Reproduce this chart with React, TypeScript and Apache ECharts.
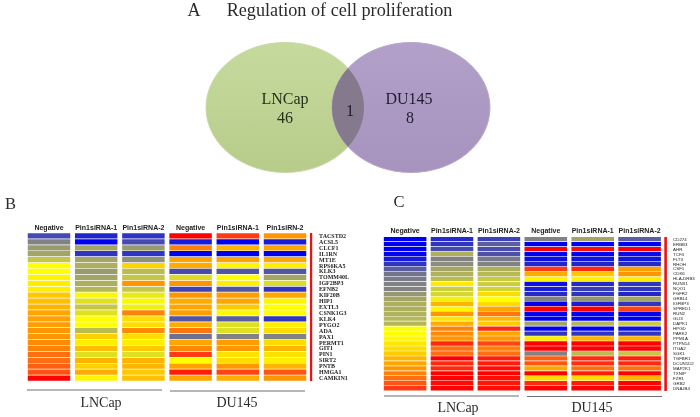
import React, { useEffect, useRef } from "react";
import * as echarts from "echarts";

const SERIF = "'Liberation Serif', serif";
const SANS = "'Liberation Sans', sans-serif";

const titleLetter = "A";
const titleText = "Regulation of cell proliferation";
const vennLeft = ["LNCap", "46"];
const vennMid = "1";
const vennRight = ["DU145", "8"];

const headersB = ["Negative", "Pin1siRNA-1", "Pin1siRNA-2", "Negative", "Pin1siRNA-1", "Pin1siRN-2"];
const headersC = ["Negative", "Pin1siRNA-1", "Pin1siRNA-2", "Negative", "Pin1siRNA-1", "Pin1siRNA-2"];

const genesB = ["TACSTD2", "ACSL5", "CLCF1", "IL1RN", "MT1E", "RPS6KA5", "KLK3", "TOMM40L", "IGF2BP3", "EFNB2", "KIF20B", "HIP1", "EXTL3", "CSNK1G3", "KLK4", "PYGO2", "ADA", "PAX1", "PERMT1", "GIT1", "PIN1", "SIRT2", "PNTB", "HMGA1", "CAMKIN1"];
const genesC = ["CD274", "ERBB3", "AHR", "TCF4", "FLT3", "RHOH", "CSF1", "CDK6", "HLA-DRB3", "RUNX1", "NQO1", "FGFR2", "GRB14", "IGFBP3", "SPRED1", "RUN2", "GLI3", "DAPK1", "HPGD", "PARK2", "PPM1A", "PTPN14", "ITGA2", "SGK1", "TGFBR1", "DCUN1D2", "MAP2K1", "TXNIP", "FZR1", "GRB2", "DNAJB4"];

const bLnNeg = [1.5, 3, 3.7, 4, 5, 7, 7, 7.3, 7.5, 7.5, 8.5, 8.7, 9, 9.5, 9.7, 9.8, 10, 10, 10.3, 10.5, 11, 11, 11.3, 11.5, 13];
const bLnP1 = [0.7, 0, 4, 1, 4, 4.3, 3.7, 4, 4.3, 4.5, 6.8, 6, 5, 6, 7, 7, 4.7, 8.3, 7.5, 8.8, 6, 9, 8.3, 9.3, 7.3];
const bLnP2 = [1, 1.5, 3.7, 1, 3.4, 8.2, 4.7, 5, 10, 5, 6.3, 6.8, 6.5, 10.5, 8, 8, 10.3, 8, 7.5, 8.5, 6, 9, 9, 8.5, 8.7];
const bDuNeg = [13, 0.5, 10.5, 0, 9.5, 9.3, 1.5, 5.8, 10, 1.3, 10, 9.3, 9.5, 9.7, 1.8, 9.3, 10.8, 2.5, 9.5, 10.4, 12, 7, 9.6, 12.5, 9.5];
const bDuP1 = [12, 0, 9, 0, 9.5, 7.3, 1.8, 7, 7.5, 1.8, 9.8, 9.5, 8.5, 7.2, 2, 6, 6, 3, 9.8, 10, 7.8, 8, 10, 11.8, 9.2];
const bDuP2 = [10, 0.5, 9.5, 0, 9.5, 7.5, 1.8, 4, 5.8, 1, 9.5, 7.3, 7, 7, 1, 7.5, 8, 3, 8, 9, 7.8, 7.5, 9, 11.5, 10];

const cLnNeg = [0, 0, 0, 0.1, 0.5, 1, 2, 2.6, 2.8, 3, 3, 3.6, 4, 4.3, 4.3, 4.4, 4.5, 4.5, 7, 7, 7.2, 7.7, 8, 8.4, 9, 9.5, 10, 10.5, 11, 11.5, 12];
const cLnP1 = [0.8, 1, 1.5, 4.3, 3, 3.3, 4, 4.4, 4.7, 7.6, 5.3, 5.6, 6.5, 9, 7.3, 10, 7.8, 9.3, 10.5, 10.3, 10, 12.3, 11, 11, 13, 12.3, 12.3, 13, 13, 12.8, 13];
const cLnP2 = [1.3, 2, 1.6, 1.7, 2.8, 3, 4.3, 4.6, 5.1, 5.3, 5.5, 8, 7, 8, 9.5, 10.8, 9, 8.4, 12.3, 9.5, 10, 11.8, 10.6, 11, 12.5, 12.5, 12.8, 13, 12.8, 12.6, 12.8];
const cDuNeg = [3, 0, 13, 0, 0.3, 0.7, 12, 9.3, 7.3, 0.3, 0.5, 0.8, 3, 0, 13, 0, 0, 4, 0, 1, 7.5, 13, 13, 3, 11.3, 11.5, 9.5, 13, 8, 12.3, 13];
const cDuP1 = [4, 0, 12.8, 0, 0.4, 0.7, 12.3, 8.5, 7.4, 0.8, 1.2, 1, 3.5, 0.5, 13, 0, 0, 4.5, 0, 1, 9, 13, 13, 4.7, 12.3, 12.2, 11, 12.5, 8, 12.5, 13];
const cDuP2 = [2, 0, 13, 0.2, 0.4, 0.8, 9.8, 10, 7.5, 1, 1, 0.7, 4, 1, 11.8, 0, 0, 5.2, 0.3, 1, 9, 13, 13, 5, 12.5, 12.3, 11, 13, 9, 13, 13];

const heatColours = ["#0000f0", "#2f35c0", "#5a5da0", "#828284", "#a3a566", "#c4c648", "#e0e022", "#ffff00", "#ffdc00", "#ffb400", "#ff9600", "#ff6e10", "#ff3a14", "#ff0000"];

function cells(columns: number[][]) {
  const out: number[][] = [];
  columns.forEach((col, x) => col.forEach((v, y) => out.push([x, y, v])));
  return out;
}

const rect = (widthShare: number, gap: number) => (_p: any, api: any) => {
  const c = api.coord([api.value(0), api.value(1)]);
  const s = api.size([1, 1]);
  const w = s[0] * widthShare;
  const h = s[1] - gap;
  return { type: "rect", shape: { x: c[0] - w / 2, y: c[1] - h / 2, width: w, height: h }, style: { fill: api.visual("color") } };
};

const label = (x: number, y: number, text: string, fontSize: number, fill = "#2b2b2b", extra: any = {}) => ({
  type: "text", x, y,
  style: { text, fontSize, fontFamily: SERIF, fill, align: "center", verticalAlign: "middle", ...extra },
});
const rule = (x1: number, x2: number, y: number) => ({
  type: "line", shape: { x1, y1: y, x2, y2: y }, style: { stroke: "#6f6f6f", lineWidth: 1 },
});

export default function App() {
  const ref = useRef<HTMLDivElement>(null);
  useEffect(() => {
    const chart = echarts.init(ref.current!, undefined, { renderer: "svg" });
    const lens = "M348 68.3 A79 65 0 0 1 348 146.7 A79 65 0 0 1 348 68.3 Z";
    echarts.graphic.registerShape("vennLens", echarts.graphic.extendPath(lens, {}));

    const xAxis = (gridIndex: number, data: string[], margin: number, fontSize: number) => ({
      type: "category", gridIndex, data, position: "top",
      axisLine: { show: false }, axisTick: { show: false }, splitLine: { show: false },
      axisLabel: { interval: 0, margin, fontSize, fontWeight: "bold", fontFamily: SANS, color: "#222" },
    });
    const yAxis = (gridIndex: number, data: string[], margin: number, fontSize: number, fontFamily: string, fontWeight: string) => ({
      type: "category", gridIndex, data, position: "right", inverse: true,
      axisLine: { show: false }, axisTick: { show: false }, splitLine: { show: false },
      axisLabel: { interval: 0, margin, fontSize, fontFamily, fontWeight, color: "#222", align: "left" },
    });

    chart.setOption({
      animation: false,
      backgroundColor: "#ffffff",
      grid: [
        { left: 25.4, top: 233, width: 283.2, height: 148 },
        { left: 381.65, top: 236.7, width: 281.4, height: 154 },
      ],
      xAxis: [xAxis(0, headersB, 2, 7), xAxis(1, headersC, 3, 7)],
      yAxis: [yAxis(0, genesB, 10.5, 6, SERIF, "bold"), yAxis(1, genesC, 10, 4.4, SANS, "normal")],
      visualMap: { show: false, type: "continuous", min: 0, max: 13, dimension: 2, seriesIndex: [0, 1], inRange: { color: heatColours } },
      series: [
        { type: "custom", xAxisIndex: 0, yAxisIndex: 0, encode: { x: 0, y: 1 }, renderItem: rect(0.9, 0.7),
          data: cells([bLnNeg, bLnP1, bLnP2, bDuNeg, bDuP1, bDuP2]) },
        { type: "custom", xAxisIndex: 1, yAxisIndex: 1, encode: { x: 0, y: 1 }, renderItem: rect(0.908, 0.6),
          data: cells([cLnNeg, cLnP1, cLnP2, cDuNeg, cDuP1, cDuP2]) },
      ],
      graphic: [
        {
          type: "group",
          children: [
            { type: "ellipse", shape: { cx: 285, cy: 107.5, rx: 79, ry: 65 },
              style: { fill: new echarts.graphic.LinearGradient(0, 0, 0, 1, [{ offset: 0, color: "#c6da9e" }, { offset: 1, color: "#b7cc8a" }]), stroke: "#c9d8a6", lineWidth: 1 } },
            { type: "ellipse", shape: { cx: 411, cy: 107.5, rx: 79, ry: 65 },
              style: { fill: new echarts.graphic.LinearGradient(0, 0, 0, 1, [{ offset: 0, color: "#b2a0c9" }, { offset: 1, color: "#a693be" }]), stroke: "#b8a8cc", lineWidth: 1 } },
            { type: "vennLens", style: { fill: "#85798d" } },
            label(285, 98, vennLeft[0], 16, "#26331c"),
            label(285, 117, vennLeft[1], 16, "#26331c"),
            label(350, 110, vennMid, 16, "#1d1a22"),
            label(409, 98, vennRight[0], 16, "#231c30"),
            label(410, 117, vennRight[1], 16, "#231c30"),
            label(194, 10, titleLetter, 18),
            label(339.5, 10, titleText, 18.2),
            label(10.5, 203, "B", 16.5),
            label(399, 201, "C", 16.5),
            rule(27, 162, 390),
            rule(170, 305, 391),
            rule(384, 519, 396),
            rule(527, 662, 396.5),
            label(101, 402, "LNCap", 14),
            label(237, 402, "DU145", 14),
            label(458, 407, "LNCap", 14),
            label(592, 407, "DU145", 14),
            { type: "rect", shape: { x: 310, y: 233, width: 2.2, height: 148 }, style: { fill: "#f01010" } },
            { type: "rect", shape: { x: 664.3, y: 237, width: 2.6, height: 154 }, style: { fill: "#f01010" } },
          ],
        },
      ],
    });
    return () => chart.dispose();
  }, []);
  return <div ref={ref} style={{ position: "fixed", left: 0, top: 0, width: 700, height: 417, filter: "blur(0.4px)" }} />;
}
